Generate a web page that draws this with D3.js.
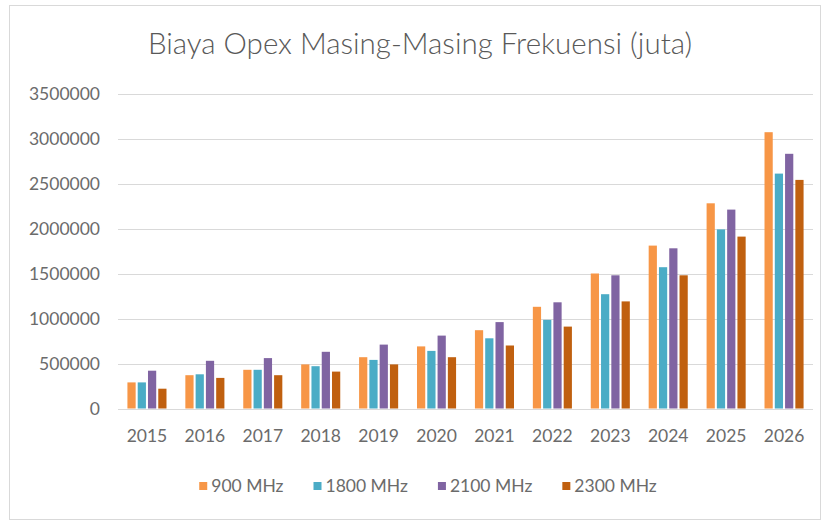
<!DOCTYPE html>
<html>
<head>
<meta charset="utf-8">
<script src="https://cdn.jsdelivr.net/npm/d3@7"></script>
<style>
  html, body { margin: 0; padding: 0; background: #ffffff; }
  svg { display: block; }
</style>
</head>
<body>
<svg id="chart" width="823" height="521"></svg>
<script>
const title = "Biaya Opex Masing-Masing Frekuensi (juta)";
const years = ["2015","2016","2017","2018","2019","2020","2021","2022","2023","2024","2025","2026"];
const seriesNames = ["900 MHz", "1800 MHz", "2100 MHz", "2300 MHz"];
const s900  = [290000, 370000, 430000, 490000, 570000, 690000, 870000, 1130000, 1500000, 1810000, 2280000, 3070000];
const s1800 = [290000, 380000, 430000, 470000, 540000, 640000, 780000, 985000, 1270000, 1570000, 1990000, 2610000];
const s2100 = [420000, 530000, 560000, 630000, 710000, 810000, 960000, 1180000, 1480000, 1780000, 2210000, 2830000];
const s2300 = [220000, 340000, 370000, 410000, 490000, 570000, 700000, 910000, 1190000, 1480000, 1910000, 2540000];
const yTicks = [0, 500000, 1000000, 1500000, 2000000, 2500000, 3000000, 3500000];
const colors = ["#F79646", "#4BACC6", "#8064A2", "#C0600F"];

(function () {
const seriesValues = [s900, s1800, s2100, s2300];
const svg = d3.select("#chart");
const FONT = "Lato, 'Open Sans', sans-serif";
const textColor = "#6b6b6b";

// frame
svg.append("rect").attr("x", 9.5).attr("y", 5.5).attr("width", 811).attr("height", 514)
  .attr("fill", "#fff").attr("stroke", "#d9d9d9");

const pLeft = 118, pRight = 813, pTop = 93.5, pBottom = 408.5;
const x = d3.scaleBand().domain(years).range([pLeft, pRight]).paddingInner(0.29).paddingOuter(0.145);
const xs = d3.scaleBand().domain(seriesNames).range([0, x.bandwidth()]).paddingInner(0.2).paddingOuter(0.1);
const y = d3.scaleLinear().domain([0, 3500000]).range([pBottom, pTop]);

// gridlines
svg.append("g").selectAll("line").data(yTicks).join("line")
  .attr("x1", pLeft).attr("x2", pRight)
  .attr("y1", d => Math.round(y(d)) + 0.5).attr("y2", d => Math.round(y(d)) + 0.5)
  .attr("stroke", "#d9d9d9").attr("stroke-width", 1);

// y axis labels
const yAxis = d3.axisLeft(y).tickValues(yTicks).tickFormat(d3.format("d")).tickSize(0).tickPadding(0);
const gy = svg.append("g").attr("transform", `translate(${100},0)`).call(yAxis);
gy.select(".domain").remove();
gy.selectAll("text").attr("font-family", FONT).attr("font-size", "17.5px").attr("fill", textColor);

// x axis labels
const xAxis = d3.axisBottom(x).tickSize(0).tickPadding(0);
const gx = svg.append("g").attr("transform", `translate(0,${pBottom + 21})`).call(xAxis);
gx.select(".domain").remove();
gx.selectAll("text").attr("font-family", FONT).attr("font-size", "17.5px").attr("fill", textColor);

// bars
const groups = svg.append("g").selectAll("g").data(years).join("g")
  .attr("transform", d => `translate(${x(d)},0)`);
groups.selectAll("rect")
  .data((yr, i) => seriesNames.map((s, j) => ({ s, j, v: seriesValues[j][i] })))
  .join("rect")
  .attr("x", d => xs(d.s))
  .attr("width", xs.bandwidth())
  .attr("y", d => y(d.v))
  .attr("height", d => y(0) - y(d.v))
  .attr("fill", d => colors[d.j]);

// title
svg.append("text").attr("x", 420).attr("y", 54)
  .attr("text-anchor", "middle")
  .attr("font-family", FONT).attr("font-weight", 300).attr("font-size", "29.5px")
  .attr("fill", "#595959").text(title);

// legend
const legend = svg.append("g");
const items = legend.selectAll("g").data(seriesNames).join("g");
items.append("rect").attr("width", 8).attr("height", 8).attr("y", -4).attr("fill", (d, i) => colors[i]);
items.append("text").attr("x", 12).attr("dy", "0.35em")
  .attr("font-family", FONT).attr("font-size", "17.5px").attr("fill", textColor).text(d => d);
let cx = 0;
const gap = 30;
items.each(function () {
  const w = 12 + this.querySelector("text").getComputedTextLength();
  d3.select(this).attr("transform", `translate(${cx},0)`);
  cx += w + gap;
});
const total = cx - gap;
legend.attr("transform", `translate(${428 - total / 2},${486})`);
})();
</script>
</body>
</html>
